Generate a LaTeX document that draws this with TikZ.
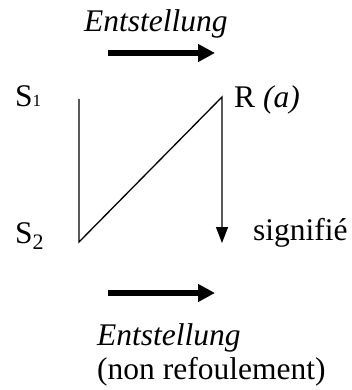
\documentclass[tikz,border=0pt]{standalone}
\usepackage{fontspec}
\setmainfont{Liberation Serif}
\usetikzlibrary{arrows.meta}
\begin{document}
\begin{tikzpicture}[x=1pt,y=-1pt,
  lbl/.style={inner sep=0pt, anchor=base west, font=\fontsize{31.5}{36}\selectfont},
  bigarrow/.style={line width=5.5pt, -{Triangle[length=17pt,width=17pt]}},
  thinline/.style={line width=1.3pt, line join=miter}]
\useasboundingbox (0,0) rectangle (352,390);
% top
\node[lbl] (e1) at (84,32) {\itshape Entstellung};
\coordinate (a1s) at (108,53);
\coordinate (a1e) at (215,53);
\draw[bigarrow] (a1s) -- (a1e);
% labels
\node[lbl] (s1) at (15,107) {S{\fontsize{17}{17}\selectfont 1}};
\node[lbl] (r) at (234,108) {R \textit{(a)}};
\node[lbl] (s2) at (15,243) {S\textsubscript{2}};
\node[lbl] (sig) at (253,240) {signifié};
% lines
\coordinate (p1) at (79,99);
\coordinate (p2) at (79,242);
\coordinate (p3) at (222,97);
\coordinate (p4) at (222,243);
\draw[thinline, -{Triangle[length=16pt,width=12pt]}] (p1) -- (p2) -- (p3) -- (p4);
% bottom
\coordinate (a2s) at (108,293);
\coordinate (a2e) at (215,293);
\draw[bigarrow] (a2s) -- (a2e);
\node[lbl] (e2) at (97,345) {\itshape Entstellung};
\node[lbl] (nr) at (97,379) {(non refoulement)};
\end{tikzpicture}
\end{document}
